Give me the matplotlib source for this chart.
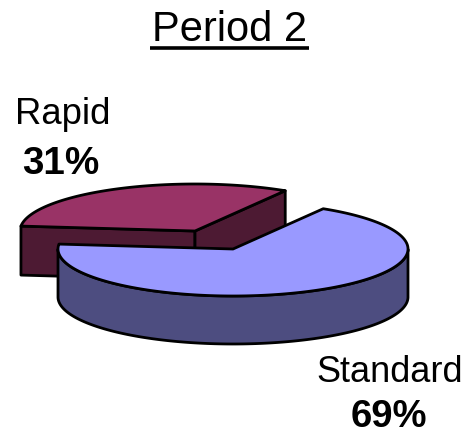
import numpy as np
import matplotlib
matplotlib.use("Agg")
import matplotlib.pyplot as plt
from matplotlib.patches import Polygon

categories = ["Rapid", "Standard"]
shares = [31, 69]
title = "Period 2"

plt.rcParams['font.family'] = ['Liberation Sans', 'DejaVu Sans']

# pie geometry, in image pixels
rx, ry = 175, 47
start = 174
skew = 3.7


def angle(frac):
    # perspective squeezes the far part of the circle
    return start - 360 * frac - skew * np.sin(2 * np.pi * frac)


def rim(cx, cy, f0, f1):
    t = np.radians(angle(np.linspace(f0, f1, 300)))
    return np.column_stack([cx + rx * np.cos(t), cy - ry * np.sin(t)]), t


def face(ax, pts, color):
    ax.add_patch(Polygon(pts, closed=True, fc=color, ec="black", lw=2, joinstyle="round"))


fig = plt.figure(figsize=(4.68, 4.34), dpi=100)
ax = fig.add_axes([0, 0, 1, 1])
ax.set_xlim(0, 468)
ax.set_ylim(434, 0)
ax.axis("off")

f = shares[0] / sum(shares)

# Rapid, pulled out of the pie
rc = (195, 231)
arc, _ = rim(rc[0], rc[1], 0, f)
down = np.array([0, 49])
for p in (arc[0], arc[-1]):
    face(ax, [rc, p, p + down, np.array(rc) + down], "#4d1a33")
face(ax, np.vstack([[rc], arc]), "#993366")

# Standard, only the near half of the rim has a visible side
sc = (233, 249)
arc, t = rim(sc[0], sc[1], f, 1)
down = np.array([0, 48])
front = arc[(t <= 0) & (t >= -np.pi)]
face(ax, np.vstack([front, (front + down)[::-1]]), "#4d4d80")
face(ax, np.vstack([[sc], arc]), "#9999ff")

# title with its underline
ax.text(229.5, 41, title, fontsize=30, ha="center", va="baseline", color="black")
ax.plot([150, 309], [47.5, 47.5], color="black", lw=2.6, solid_capstyle="butt")

# data labels
ax.text(63, 124, categories[0], fontsize=26.3, ha="center", va="baseline", color="black")
ax.text(61, 174, "%d%%" % shares[0], fontsize=27.8, fontweight="bold", ha="center", va="baseline", color="black")
ax.text(390, 382, categories[1], fontsize=26, ha="center", va="baseline", color="black")
ax.text(389, 427, "%d%%" % shares[1], fontsize=27.5, fontweight="bold", ha="center", va="baseline", color="black")

fig.savefig("out.png", dpi=100)
